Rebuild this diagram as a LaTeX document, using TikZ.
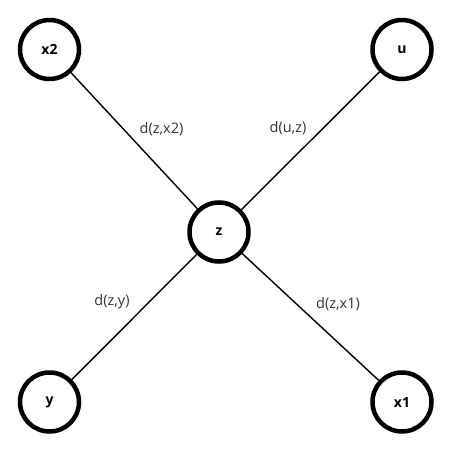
\documentclass[tikz,border=0pt]{standalone}
\usepackage{fontspec}
\setmainfont{Open Sans}
\usepackage{xcolor}
\usepackage{tikz}
\usetikzlibrary{positioning}

\begin{document}
\begin{tikzpicture}[x=1pt,y=-1pt,
  vertex/.style={draw,circle,line width=4.5pt,minimum size=59pt,inner sep=0pt,font=\fontsize{14}{16}\selectfont\bfseries},
  edge/.style={draw,line width=1.4pt},
  dist/.style={font=\fontsize{14.5}{17}\selectfont,text=black!80,inner sep=0pt}]
\useasboundingbox (0,0) rectangle (452,452);
\node[vertex] (x2) at (49.5,49.5) {x2};
\node[vertex] (u) at (402,49.5) {u};
\node[vertex] (z) at (219,232) {z};
\node[vertex] (y) at (49.5,402) {y};
\node[vertex] (x1) at (402,402) {x1};
\draw[edge] (x2)--(z); \draw[edge] (u)--(z);
\draw[edge] (z)--(y); \draw[edge] (z)--(x1);
\node[dist] (lzx2) at (161.5,129) {d(z,x2)};
\node[dist] (luz) at (288,128) {d(u,z)};
\node[dist] (lzy) at (112,302) {d(z,y)};
\node[dist] (lzx1) at (338,304) {d(z,x1)};
\end{tikzpicture}
\end{document}
